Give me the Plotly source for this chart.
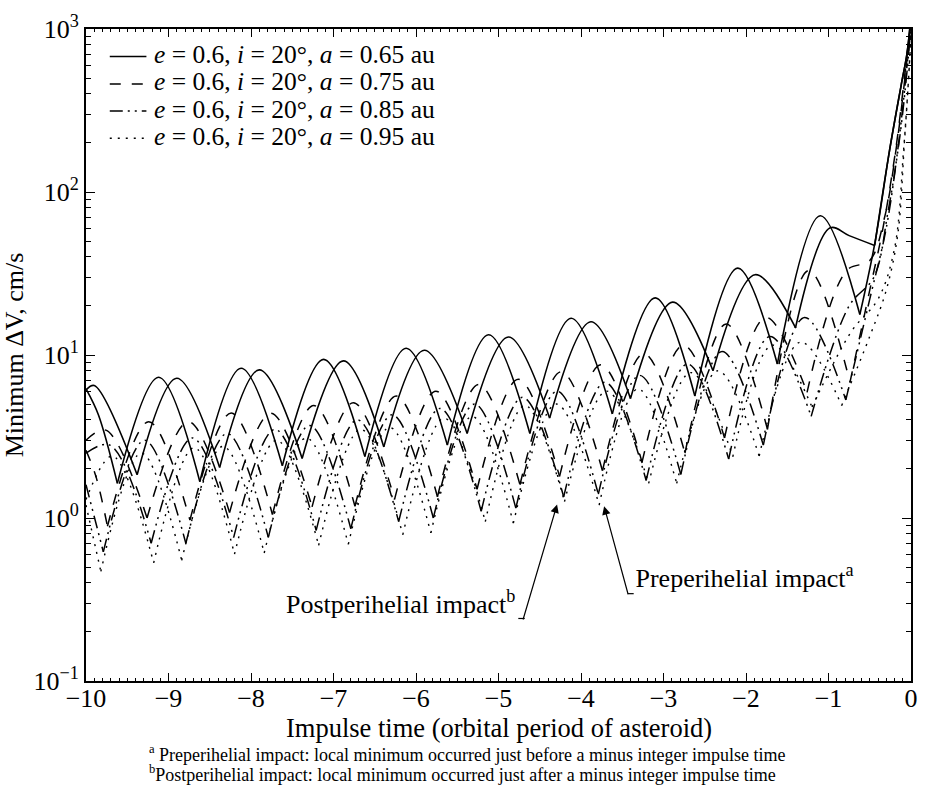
import math
import plotly.graph_objects as go

# ---------------- data ----------------
# x: impulse time (orbital periods), y: minimum dV (cm/s)
# Each configuration has two branches (two interleaved arch families).

# a = 0.65 au (solid)
SOL_A_X = [-10, -9.85, -9.62, -9.12, -8.62, -8.12, -7.62, -7.12, -6.62, -6.12, -5.62, -5.12, -4.62, -4.12,
           -3.62, -3.10, -2.62, -2.10, -1.62, -1.10, -0.62, -0.44, -0.26, -0.12, -0.05, -0.015]
SOL_A_Y = [6.2, 4.3, 1.63, 7.3, 1.67, 8.3, 2.09, 9.4, 2.38, 11.0, 2.80, 13.3, 3.3, 16.8,
           4.35, 22.4, 5.6, 34.1, 8.8, 71.5, 17.7, 48, 180, 450, 700, 1000]
SOL_B_X = [-10, -9.90, -9.38, -8.90, -8.38, -7.90, -7.38, -6.88, -6.39, -5.90, -5.38, -4.88, -4.38, -3.88,
           -3.40, -2.89, -2.40, -1.89, -1.40, -0.98, -0.75, -0.44, -0.26, -0.12, -0.05, -0.015]
SOL_B_Y = [6.1, 6.5, 1.84, 7.2, 2.04, 8.1, 2.32, 9.2, 2.73, 10.7, 3.30, 12.9, 4.1, 16.0,
           5.4, 21.1, 8.0, 31.1, 14.7, 60.3, 54, 47, 180, 450, 700, 1000]

# a = 0.75 au (dashed)
DSH_A_X = [-10, -9.88, -9.74, -9.24, -8.74, -8.24, -7.74, -7.24, -6.74, -6.24, -5.74, -5.24, -4.74, -4.24,
           -3.74, -3.24, -2.74, -2.24, -1.74, -1.24, -0.74, -0.50, -0.34, -0.18, -0.08, -0.01]
DSH_A_Y = [2.6, 1.8, 0.89, 3.9, 0.97, 4.4, 1.05, 4.9, 1.18, 5.6, 1.35, 6.6, 1.6, 7.9,
           1.95, 10.2, 2.5, 15.5, 3.5, 33, 6.8, 25, 60, 190, 500, 1000]
DSH_B_X = [-10, -9.76, -9.26, -8.76, -8.26, -7.76, -7.26, -6.76, -6.26, -5.76, -5.26, -4.76, -4.26, -3.76,
           -3.26, -2.76, -2.26, -1.76, -1.26, -0.78, -0.50, -0.32, -0.17, -0.07, -0.01]
DSH_B_Y = [3.0, 3.46, 1.0, 3.9, 1.08, 4.4, 1.17, 5.1, 1.3, 6.0, 1.5, 7.1, 1.8, 8.7,
           2.2, 11.5, 3.1, 17, 5.9, 33, 38, 70, 200, 520, 1000]

# a = 0.85 au (dash-dot)
DDT_A_X = [-10, -9.79, -9.29, -8.79, -8.29, -7.79, -7.29, -6.79, -6.29, -5.79, -5.29, -4.79, -4.29, -3.79,
           -3.29, -2.79, -2.29, -1.79, -1.29, -0.79, -0.50, -0.30, -0.15, -0.06, -0.005]
DDT_A_Y = [1.6, 0.62, 3.0, 0.70, 3.3, 0.76, 3.7, 0.86, 4.3, 1.0, 5.0, 1.15, 6.0, 1.4,
           7.5, 1.85, 10.5, 2.8, 17, 5.3, 22, 60, 200, 520, 1000]
DDT_B_X = [-10, -9.71, -9.21, -8.71, -8.21, -7.71, -7.21, -6.71, -6.21, -5.71, -5.21, -4.71, -4.21, -3.71,
           -3.21, -2.71, -2.21, -1.71, -1.21, -0.75, -0.45, -0.28, -0.14, -0.05, -0.005]
DDT_B_Y = [2.5, 2.8, 0.70, 3.1, 0.76, 3.5, 0.84, 4.0, 0.95, 4.7, 1.1, 5.5, 1.35, 6.8,
           1.7, 8.8, 2.3, 13, 4.2, 20, 30, 75, 210, 540, 1000]

# a = 0.95 au (dotted)
DOT_A_X = [-10, -9.82, -9.33, -8.84, -8.34, -7.84, -7.33, -6.82, -6.32, -5.82, -5.32, -4.82, -4.30, -3.78,
           -3.31, -2.84, -2.34, -1.84, -1.34, -0.84, -0.50, -0.30, -0.16, -0.08, -0.02, 0.0]
DOT_A_Y = [1.2, 0.47, 2.5, 0.55, 2.75, 0.61, 3.1, 0.69, 3.6, 0.81, 4.2, 0.93, 5.0, 1.2,
           6.2, 1.63, 8.0, 2.4, 12, 4.9, 13, 25, 55, 200, 600, 1000]
DOT_B_X = [-10, -9.68, -9.18, -8.69, -8.20, -7.69, -7.18, -6.67, -6.16, -5.66, -5.16, -4.68, -4.20, -3.69,
           -3.18, -2.67, -2.16, -1.68, -1.20, -0.72, -0.40, -0.20, -0.09, -0.02, 0.0]
DOT_B_Y = [1.3, 2.4, 0.53, 2.7, 0.60, 3.0, 0.68, 3.5, 0.79, 4.1, 0.95, 4.9, 1.26, 6.0,
           1.63, 7.8, 2.38, 11.5, 4.8, 14, 22, 45, 180, 600, 1000]

LEGEND_NAMES = [
    "<i>e</i> = 0.6, <i>i</i> = 20°, <i>a</i> = 0.65 au",
    "<i>e</i> = 0.6, <i>i</i> = 20°, <i>a</i> = 0.75 au",
    "<i>e</i> = 0.6, <i>i</i> = 20°, <i>a</i> = 0.85 au",
    "<i>e</i> = 0.6, <i>i</i> = 20°, <i>a</i> = 0.95 au",
]
X_TICKS = [-10, -9, -8, -7, -6, -5, -4, -3, -2, -1, 0]
X_TICK_TEXT = ["−10", "−9", "−8", "−7", "−6", "−5", "−4", "−3", "−2", "−1", "0"]
Y_TICKS = [0.1, 1, 10, 100, 1000]
Y_TICK_TEXT = ["10<sup>−1</sup>", "10<sup>0</sup>", "10<sup>1</sup>", "10<sup>2</sup>", "10<sup>3</sup>"]
X_TITLE = "Impulse time (orbital period of asteroid)"
Y_TITLE = "Minimum ΔV, cm/s"
PRE_LABEL = "Preperihelial impact<sup>a</sup>"
POST_LABEL = "Postperihelial impact<sup>b</sup>"
FOOTNOTES = [
    "<sup>a</sup> Preperihelial impact: local minimum occurred just before a minus integer impulse time",
    "<sup>b</sup>Postperihelial impact: local minimum occurred just after a minus integer impulse time",
]

FONT = "Liberation Serif"
PLOT_L, PLOT_R, PLOT_T, PLOT_B = 85, 918, 24, 681


def px2paper(px, py):
    return (px - PLOT_L) / float(PLOT_R - PLOT_L), (PLOT_B - py) / float(PLOT_B - PLOT_T)


def split_at_minima(xs, ys):
    """Break a branch into separate arches at each cusp (local minimum)."""
    ox, oy = [], []
    n = len(xs)
    for i in range(n):
        ox.append(xs[i])
        oy.append(ys[i])
        if 0 < i < n - 1 and ys[i] < ys[i - 1] and ys[i] < ys[i + 1]:
            ox += [None, xs[i]]
            oy += [None, ys[i]]
    return ox, oy


def multiline(lines, size):
    return "<br>".join('<span style="font-size:%gpx">%s</span>' % (size, t) for t in lines)


series = [
    (SOL_A_X, SOL_A_Y, SOL_B_X, SOL_B_Y, "solid", 1.6),
    (DSH_A_X, DSH_A_Y, DSH_B_X, DSH_B_Y, "11px,11px", 1.5),
    (DDT_A_X, DDT_A_Y, DDT_B_X, DDT_B_Y, "13px,5px,2px,5px,2px,5px", 1.5),
    (DOT_A_X, DOT_A_Y, DOT_B_X, DOT_B_Y, "2px,6px", 1.4),
]

fig = go.Figure()
for k, (ax_, ay_, bx_, by_, dash, w) in enumerate(series):
    for j, (xs, ys) in enumerate([(ax_, ay_), (bx_, by_)]):
        sx, sy = split_at_minima(xs, ys)
        fig.add_trace(go.Scatter(
            x=sx, y=sy, mode="lines",
            line=dict(color="black", width=w, dash=dash, shape="spline", smoothing=1.0),
            name=LEGEND_NAMES[k], showlegend=False,
            connectgaps=False, hoverinfo="skip",
        ))

# hand-placed legend (tight row spacing like the reference)
LEG_ROWS = [51.7, 79.3, 106.7, 134.1]
ROW_GAP = 27.4
for k, (_, _, _, _, dash, w) in enumerate(series):
    x0, y0 = px2paper(109, LEG_ROWS[k])
    x1, _ = px2paper(146, LEG_ROWS[k])
    fig.add_shape(type="line", xref="paper", yref="paper", x0=x0, x1=x1, y0=y0, y1=y0,
                  line=dict(color="black", width=w, dash=dash))
tx, ty = px2paper(153, (LEG_ROWS[0] + LEG_ROWS[-1]) / 2 - 2)
fig.add_annotation(x=tx, y=ty, xref="paper", yref="paper", xanchor="left", yanchor="middle", align="left",
                   text=multiline(LEGEND_NAMES, 25.5), showarrow=False, borderpad=0,
                   font=dict(family=FONT, size=ROW_GAP / 1.3))

fig.update_layout(
    width=929, height=797,
    margin=dict(l=PLOT_L, r=929 - PLOT_R, t=PLOT_T, b=797 - PLOT_B),
    paper_bgcolor="white", plot_bgcolor="white",
    font=dict(family=FONT, size=26, color="black"),
    showlegend=False,
)

fig.update_xaxes(
    range=[-10, 0], tickvals=X_TICKS, ticktext=X_TICK_TEXT,
    showline=True, linecolor="black", linewidth=2, mirror="allticks",
    ticks="inside", ticklen=8, tickwidth=1, tickcolor="black",
    minor=dict(ticks="inside", ticklen=3, dtick=0.1, tickcolor="black"),
    showgrid=False, zeroline=False, ticklabelstandoff=-7,
    tickfont=dict(family=FONT, size=26),
)
fig.update_yaxes(
    type="log", range=[-1, 3], tickvals=Y_TICKS, ticktext=Y_TICK_TEXT,
    showline=True, linecolor="black", linewidth=2, mirror="allticks",
    ticks="inside", ticklen=9, tickwidth=1, tickcolor="black",
    minor=dict(ticks="inside", ticklen=5, dtick="D1", tickcolor="black"),
    showgrid=False, zeroline=False,
    tickfont=dict(family=FONT, size=26),
    title=dict(text=Y_TITLE, font=dict(family=FONT, size=26), standoff=4),
)

# x-axis title
tx, ty = px2paper((PLOT_L + PLOT_R) / 2, 728)
fig.add_annotation(x=tx, y=ty, xref="paper", yref="paper", xanchor="center", yanchor="middle",
                   text=X_TITLE, showarrow=False, borderpad=0, font=dict(family=FONT, size=26.5))

# arrows with their labels
PRE_TIP = (-3.72, 1.18)
POST_TIP = (-4.29, 1.21)
fig.add_annotation(x=PRE_TIP[0], y=math.log10(PRE_TIP[1]), xref="x", yref="y",
                   text="\u00a0" + PRE_LABEL, xanchor="left", yanchor="bottom", borderpad=0,
                   font=dict(family=FONT, size=26),
                   showarrow=True, arrowhead=2, arrowsize=1.4, arrowwidth=1.2, arrowcolor="black",
                   axref="pixel", ayref="pixel", ax=24, ay=88)
fig.add_annotation(x=POST_TIP[0], y=math.log10(POST_TIP[1]), xref="x", yref="y",
                   text=POST_LABEL + "\u00a0", xanchor="right", yanchor="bottom", borderpad=0,
                   font=dict(family=FONT, size=26),
                   showarrow=True, arrowhead=2, arrowsize=1.4, arrowwidth=1.2, arrowcolor="black",
                   axref="pixel", ayref="pixel", ax=-34, ay=115)

for (x0, y0, x1, y1) in [(632, 593, 638, 593), (521.5, 618, 528, 618)]:
    a0, b0 = px2paper(x0, y0)
    a1, b1 = px2paper(x1, y1)
    fig.add_shape(type="line", xref="paper", yref="paper", x0=a0, y0=b0, x1=a1, y1=b1,
                  line=dict(color="black", width=1.2))

# footnotes
tx, ty = px2paper(148, 764)
fig.add_annotation(x=tx, y=ty, xref="paper", yref="paper", xanchor="left", yanchor="middle", align="left",
                   text=multiline(FOOTNOTES, 18), showarrow=False, borderpad=0,
                   font=dict(family=FONT, size=20.5 / 1.3))

fig.write_html("out.html")
